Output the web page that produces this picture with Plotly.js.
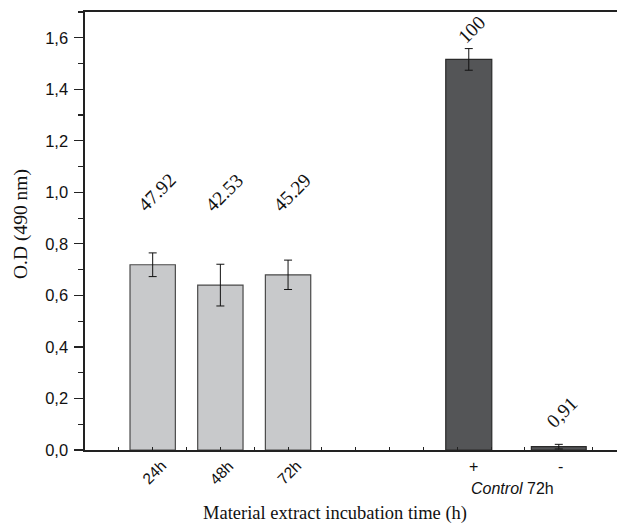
<!DOCTYPE html>
<html>
<head>
<meta charset="utf-8">
<script src="https://cdn.plot.ly/plotly-3.0.1.min.js"></script>
<style>
  html, body { margin: 0; padding: 0; background: #fff; }
  #chart { width: 617px; height: 528px; }
</style>
</head>
<body>
<div id="chart"></div>
<script>
// ---- data ----
const extractCategories = ['24h', '48h', '72h'];
const extractX = [1, 2, 3];
const extractOD = [0.719, 0.640, 0.680];
const extractErr = [0.046, 0.081, 0.057];
const extractLabels = ['47.92', '42.53', '45.29'];

const controlCategories = ['+', '-'];
const controlX = [5.67, 7.0];
const controlOD = [1.516, 0.013];
const controlErr = [0.042, 0.009];
const controlLabels = ['100', '0,91'];

// ---- styling / layout ----
const sans = 'Liberation Sans, Arial, sans-serif';
const serif = 'Liberation Serif, Times New Roman, serif';
const axisColor = '#222';
const W = 617, H = 528, ML = 85, MR = 0, MT = 12, MB = 78;
const pw = W - ML - MR, ph = H - MT - MB;
const px2paperX = (px) => (px - ML) / pw;
const px2paperY = (py) => (H - MB - py) / ph;

const traces = [
  {
    type: 'bar', x: extractX, y: extractOD,
    width: extractX.map(() => 0.67),
    marker: { color: '#c8c9cb', line: { color: '#4a4a4a', width: 1.2 } },
    error_y: { type: 'data', array: extractErr, visible: true, color: '#111', thickness: 1, width: 4 },
    hoverinfo: 'skip', showlegend: false
  },
  {
    type: 'bar', x: controlX, y: controlOD,
    width: [0.68, 0.81],
    marker: { color: '#545557', line: { color: '#2a2a2a', width: 1.2 } },
    error_y: { type: 'data', array: controlErr, visible: true, color: '#111', thickness: 1, width: 4 },
    hoverinfo: 'skip', showlegend: false
  }
];

const annotations = [];
const base = { showarrow: false, xanchor: 'center', yanchor: 'middle' };
// value labels above bars (rotated)
const extractLabelY = [1.0, 1.0, 1.0];
extractLabels.forEach((t, i) => annotations.push(Object.assign({}, base, {
  x: extractX[i], y: extractLabelY[i], xref: 'x', yref: 'y', text: t,
  textangle: -45, xshift: 4, font: { family: serif, size: 19.5, color: '#111' }
})));
const controlLabelY = [1.632, 0.146];
controlLabels.forEach((t, i) => annotations.push(Object.assign({}, base, {
  x: controlX[i], y: controlLabelY[i], xref: 'x', yref: 'y', text: t,
  textangle: -45, xshift: 3, font: { family: serif, size: 19.5, color: '#111' }
})));
// x category labels
extractCategories.forEach((t, i) => annotations.push(Object.assign({}, base, {
  x: extractX[i], y: px2paperY(472), xref: 'x', yref: 'paper', text: t,
  textangle: -45, xshift: 1, font: { family: sans, size: 15.5, color: '#111' }
})));
const controlShift = [5, 2];
controlCategories.forEach((t, i) => annotations.push(Object.assign({}, base, {
  x: controlX[i], y: px2paperY(466), xref: 'x', yref: 'paper', text: t,
  xshift: controlShift[i], font: { family: sans, size: 16, color: '#111' }
})));
annotations.push(Object.assign({}, base, {
  x: px2paperX(512), y: px2paperY(488), xref: 'paper', yref: 'paper',
  text: '<i>Control</i> 72h', font: { family: sans, size: 16, color: '#111' }
}));
// axis titles
annotations.push(Object.assign({}, base, {
  x: px2paperX(335), y: px2paperY(513), xref: 'paper', yref: 'paper',
  text: 'Material extract incubation time (h)', font: { family: serif, size: 18.5, color: '#111' }
}));
annotations.push(Object.assign({}, base, {
  x: px2paperX(21), y: px2paperY(224), xref: 'paper', yref: 'paper', textangle: -90,
  text: 'O.D (490 nm)', font: { family: serif, size: 19.5, color: '#111' }
}));

const layout = {
  width: W, height: H,
  margin: { l: ML, r: MR, t: MT, b: MB, pad: 0 },
  paper_bgcolor: '#fff', plot_bgcolor: '#fff',
  separators: ', ',
  barmode: 'overlay',
  showlegend: false,
  xaxis: {
    range: [0, 7.86], showgrid: false, zeroline: false,
    showline: true, linecolor: axisColor, linewidth: 1.6, mirror: true,
    tickmode: 'linear', tick0: 0, dtick: 0.5, ticks: 'inside', ticklen: 3, tickwidth: 1, tickcolor: axisColor,
    showticklabels: false, fixedrange: true
  },
  yaxis: {
    range: [0, 1.7], showgrid: false, zeroline: false,
    showline: true, linecolor: axisColor, linewidth: 1.6, mirror: false,
    tickmode: 'linear', tick0: 0, dtick: 0.2, ticks: 'outside', ticklen: 9, tickwidth: 1.2, tickcolor: axisColor,
    tickformat: '.1f', ticklabelstandoff: 3,
    tickfont: { family: sans, size: 16.5, color: '#111' },
    minor: { tick0: 0, dtick: 0.1, ticks: 'outside', ticklen: 5, tickwidth: 1.2, tickcolor: axisColor },
    fixedrange: true
  },
  annotations: annotations
};

Plotly.newPlot('chart', traces, layout, { displayModeBar: false, staticPlot: true });
</script>
</body>
</html>
